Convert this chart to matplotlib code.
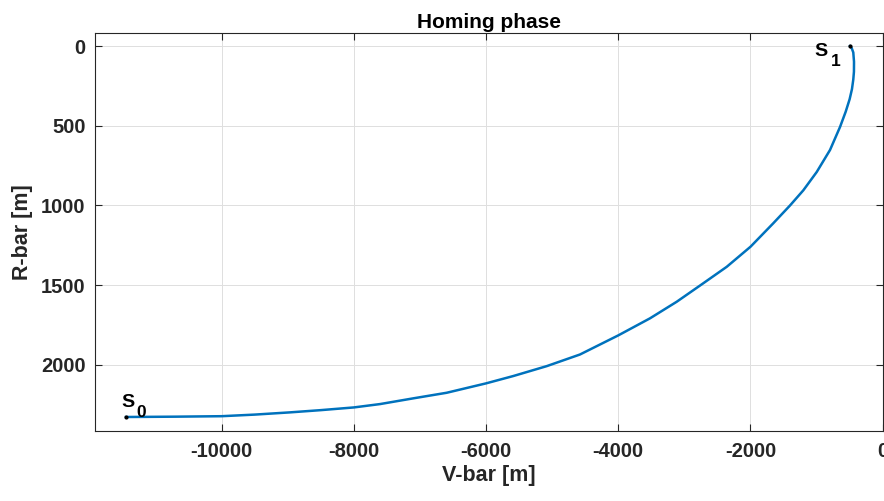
import numpy as np
import matplotlib
matplotlib.use("Agg")
import matplotlib.pyplot as plt

plt.rcParams['font.family'] = ['Liberation Sans', 'DejaVu Sans']
plt.rcParams['font.weight'] = 'bold'
plt.rcParams['axes.unicode_minus'] = False

# trajectory (V-bar, R-bar) in metres
vbar = [-11448, -10700, -10000, -9500, -8966, -8500, -8000, -7605, -7101,
        -6596, -6000, -5588, -5083, -4580, -4000, -3520, -3116, -2738,
        -2360, -2000, -1656, -1402, -1201, -998, -797, -646, -560, -500,
        -465, -445, -435, -434, -445, -470, -495]
rbar = [2327, 2325, 2322, 2312, 2298, 2284, 2267, 2246, 2210,
        2175, 2116, 2070, 2008, 1935, 1815, 1708, 1604, 1495,
        1385, 1259, 1112, 1000, 905, 790, 652, 508, 412, 333,
        270, 210, 161, 98, 40, 12, 0]

xticks = [-10000, -8000, -6000, -4000, -2000, 0]
yticks = [0, 500, 1000, 1500, 2000]

fig = plt.figure(figsize=(8.84, 5.01), dpi=100)
ax = fig.add_axes([95.3 / 884, 1 - 430.7 / 501, 787.4 / 884, 397.4 / 501])

ax.plot(vbar, rbar, color='#0072BD', lw=1.8, zorder=3, solid_joinstyle='round')
ax.plot([vbar[0], vbar[-1]], [rbar[0], rbar[-1]], 'k.', ms=4, zorder=4)

# point labels, subscript drawn as its own text (MATLAB tex style)
def label(x, y, main, sub, main_off, sub_off, ha):
    ax.annotate(main, (x, y), xytext=main_off, textcoords='offset points',
                ha=ha, va='baseline', fontsize=14, fontweight='bold')
    ax.annotate(sub, (x, y), xytext=sub_off, textcoords='offset points',
                ha='left', va='baseline', fontsize=12.5, fontweight='bold')

label(vbar[0], rbar[0], 'S', '0', (-3.1, 7.4), (7.2, 0.2), 'left')
label(vbar[-1], rbar[-1], 'S', '1', (-16.3, -7.0), (-13.9, -14.2), 'right')

ax.set_xlim(-11912, 0)
ax.set_ylim(2413, -80)
ax.set_xticks(xticks)
ax.set_yticks(yticks)
ax.grid(True, color='#dfdfdf', lw=0.7)
ax.set_axisbelow(True)

for s in ax.spines.values():
    s.set_color('#262626')
    s.set_linewidth(0.8)
ax.tick_params(direction='in', length=5, width=0.8, colors='#262626',
               labelsize=14.5, top=True, right=True, labelcolor='#262626')
ax.tick_params(axis='x', pad=8)
ax.tick_params(axis='y', pad=7)

ax.set_xlabel('V-bar [m]', fontsize=15.5, fontweight='bold', color='#262626', labelpad=3)
ax.set_ylabel('R-bar [m]', fontsize=15.5, fontweight='bold', color='#262626', labelpad=6)
ax.set_title('Homing phase', fontsize=15, fontweight='bold', pad=4)

fig.savefig('out.png', dpi=100)
